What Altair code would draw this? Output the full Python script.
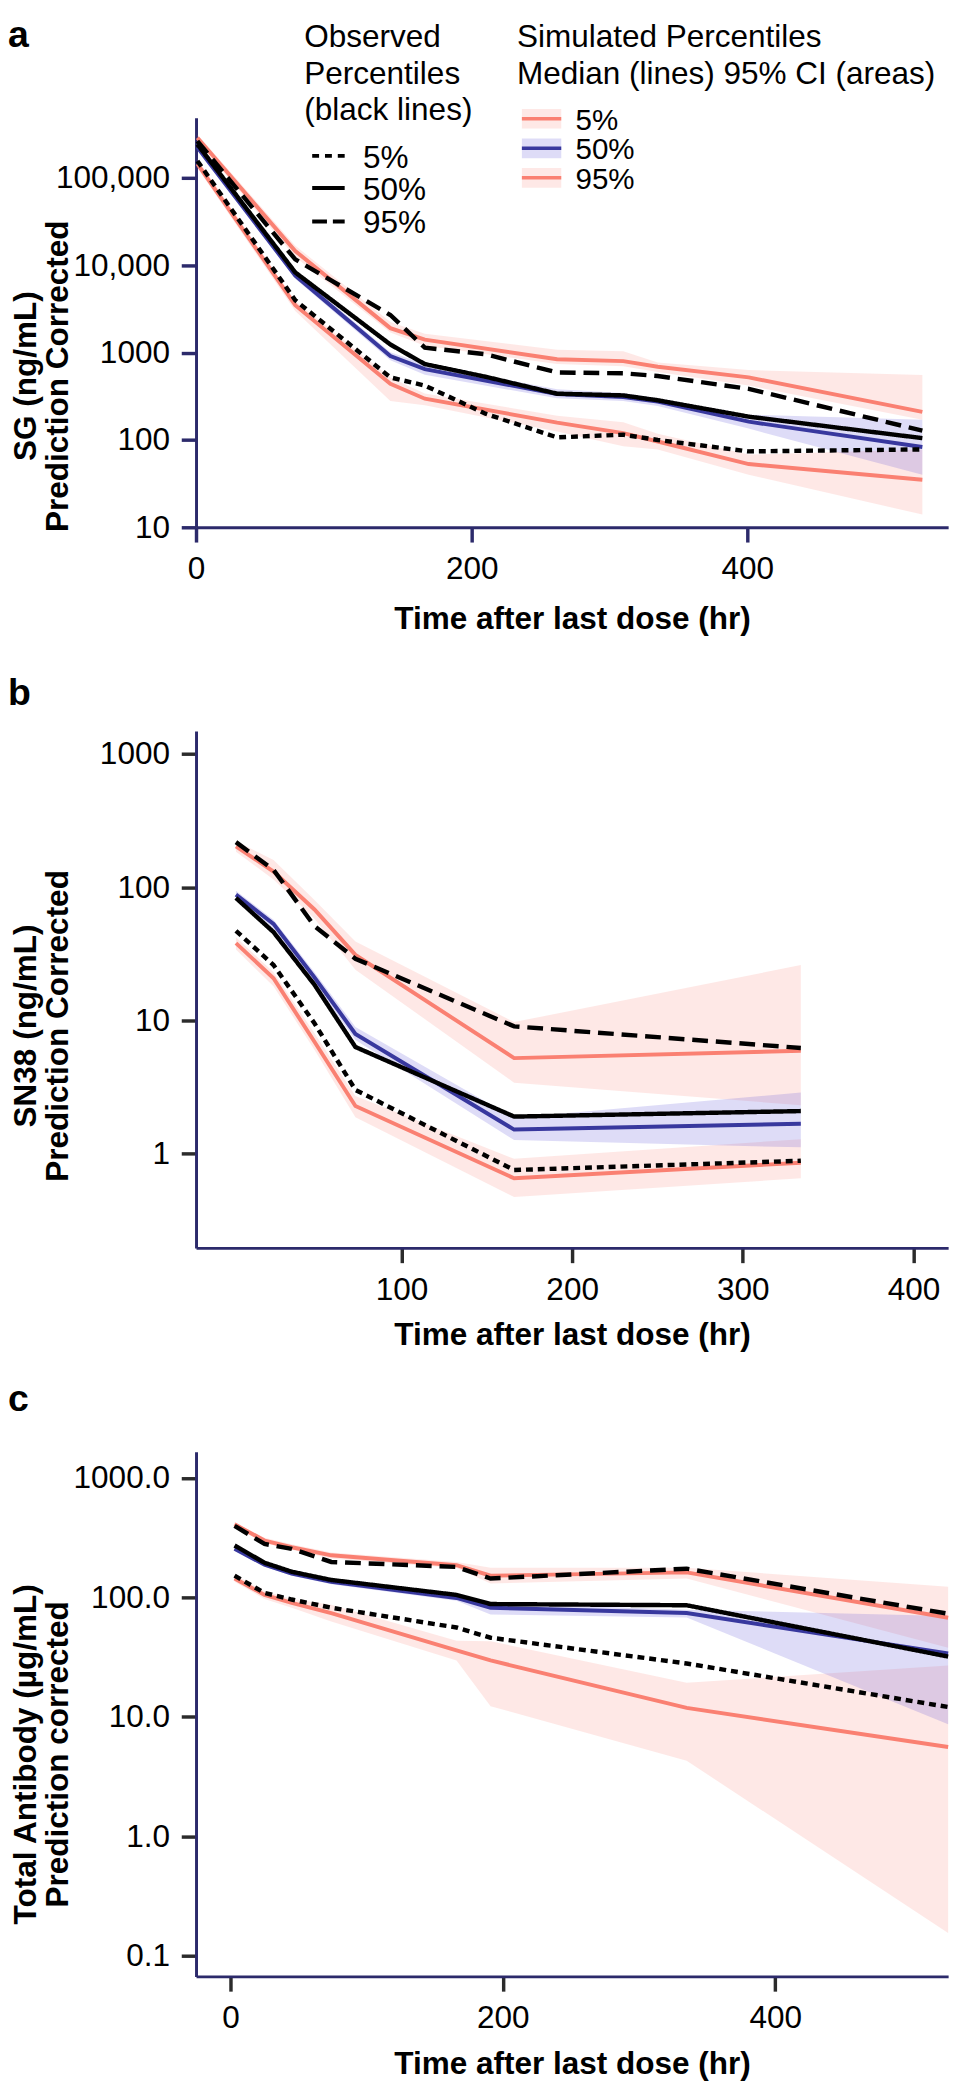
import altair as alt
import pandas as pd

FONT = "Liberation Sans"
NAVY = "#2c2a6b"
TICK_DARK = "#2b2b2b"
RED = "#fa8072"
BLUE = "#38389e"
BAND_RED = "#fa8072"
BAND_BLUE = "#5b50d6"

PCT = ["5%", "50%", "95%"]
OBS_LEGEND_TITLE = ["Observed", "Percentiles", "(black lines)"]
SIM_LEGEND_TITLE = ["Simulated Percentiles", "Median (lines) 95% CI (areas)"]
X_TITLE = "Time after last dose (hr)"

# ---------------- panel a : SG ----------------
A_SIM_TIME = [1, 72, 141, 166, 262, 310, 335, 401, 527]
A_SIM_P5 = [145000, 3500, 440, 297, 158, 120, 96, 53, 35]
A_SIM_P5_LO = [130000, 3000, 280, 250, 125, 85, 78, 40, 14]
A_SIM_P5_HI = [165000, 3900, 520, 340, 190, 160, 118, 68, 78]
A_SIM_P50 = [225000, 7640, 915, 648, 335, 310, 275, 162, 83]
A_SIM_P50_LO = [205000, 7000, 820, 560, 300, 280, 245, 135, 40]
A_SIM_P50_HI = [245000, 8300, 1010, 740, 380, 345, 300, 195, 170]
A_SIM_P95 = [289000, 14600, 1910, 1410, 840, 800, 689, 521, 210]
A_SIM_P95_LO = [265000, 12500, 1700, 1200, 740, 700, 600, 420, 170]
A_SIM_P95_HI = [315000, 16800, 2250, 1650, 1080, 1040, 770, 633, 555]
A_OBS_TIME = [1, 72, 141, 166, 210, 262, 310, 335, 401, 527]
A_OBS_P5 = [157000, 3990, 521, 420, 200, 107, 115, 100, 74, 78]
A_OBS_P50 = [243000, 8300, 1240, 740, 530, 339, 324, 285, 185, 105]
A_OBS_P95 = [265000, 11700, 2700, 1140, 960, 593, 580, 540, 385, 128]
A_Y_TICKS = [10, 100, 1000, 10000, 100000]
A_X_TICKS = [0, 200, 400]

# ---------------- panel b : SN38 ----------------
B_TIME = [3, 25, 49, 73, 166, 334]
B_OBS_P5 = [47, 26, 9.5, 3.0, 0.75, 0.88]
B_OBS_P50 = [83, 46, 18.5, 6.3, 1.89, 2.08]
B_OBS_P95 = [218, 135, 51, 29, 9.0, 6.2]
B_SIM_P5 = [38, 20.7, 6.9, 2.27, 0.65, 0.85]
B_SIM_P5_LO = [34, 18, 6.0, 1.87, 0.47, 0.65]
B_SIM_P5_HI = [42, 23, 8.0, 2.7, 0.91, 1.28]
B_SIM_P50 = [88, 53, 21, 7.9, 1.51, 1.67]
B_SIM_P50_LO = [82, 49, 19, 7.1, 1.26, 1.11]
B_SIM_P50_HI = [94, 57, 23, 8.9, 1.85, 2.87]
B_SIM_P95 = [203, 131, 68, 31, 5.2, 5.9]
B_SIM_P95_LO = [185, 114, 58, 24, 3.4, 2.3]
B_SIM_P95_HI = [222, 160, 80, 39, 9.7, 26]
B_Y_TICKS = [1, 10, 100, 1000]
B_X_TICKS = [100, 200, 300, 400]

# ---------------- panel c : total antibody ----------------
C_TIME = [3, 25, 45, 74, 166, 191, 335, 527]
C_OBS_P5 = [152, 109, 96, 82, 56, 46, 28, 12.1]
C_OBS_P50 = [272, 195, 164, 140, 105, 88, 86, 32]
C_OBS_P95 = [397, 280, 255, 198, 180, 144, 174, 73]
C_SIM_P5 = [144, 105, 90, 74, 36, 29.7, 11.9, 5.6]
C_SIM_P5_LO = [135, 97, 82, 63, 29.7, 12.3, 4.3, 0.156]
C_SIM_P5_HI = [155, 113, 97, 87, 43.5, 43, 19.3, 27]
C_SIM_P50 = [255, 188, 158, 135, 99, 82, 74, 34]
C_SIM_P50_LO = [245, 181, 152, 129, 94, 72, 68, 8.7]
C_SIM_P50_HI = [265, 195, 164, 141, 104, 90, 79, 70]
C_SIM_P95 = [409, 299, 263, 225, 186, 152, 162, 67.6]
C_SIM_P95_LO = [390, 285, 250, 212, 176, 131, 144, 38]
C_SIM_P95_HI = [425, 315, 278, 238, 198, 177, 177, 123]
C_Y_TICKS = [0.1, 1, 10, 100, 1000]
C_X_TICKS = [0, 200, 400]

W = 764
LEFT = -191


def sim_frame(time, meds, los, his):
    rows = []
    for p, m, lo, hi in zip(PCT, meds, los, his):
        for t, a, b, c in zip(time, m, lo, hi):
            rows.append({"time": t, "pct": p, "med": a, "lo": b, "hi": c})
    return pd.DataFrame(rows)


def obs_frame(time, vals):
    rows = []
    for p, v in zip(PCT, vals):
        for t, a in zip(time, v):
            rows.append({"time": t, "pct": p, "val": a})
    return pd.DataFrame(rows)


def text_layer(s, x, y, size=32, weight="normal", baseline="alphabetic"):
    return alt.Chart(pd.DataFrame({"t": [s]})).mark_text(
        font=FONT, fontSize=size, fontWeight=weight, align="left",
        baseline=baseline, color="black"
    ).encode(text="t:N", x=alt.value(x), y=alt.value(y))


def panel(letter, letter_y, sim_df, obs_df, xdom, ydom, xticks, yticks,
          ylabel_expr, ytitle, ytitle_y, height, tick_color, xtitle_y):
    xs = alt.Scale(domain=xdom, nice=False, zero=False)
    ys = alt.Scale(type="log", domain=ydom, nice=False)
    xaxis = alt.Axis(
        values=xticks, format="d", title=X_TITLE, grid=False,
        labelFont=FONT, labelFontSize=32, labelColor="black", labelPadding=12,
        labelFlush=False, labelOverlap=False,
        tickSize=15, tickWidth=3.5, tickColor=tick_color,
        domainColor=NAVY, domainWidth=3,
        titleFont=FONT, titleFontSize=32, titleFontWeight="bold", titleColor="black",
        titleX=W / 2, titleY=xtitle_y, titleAlign="center", titleBaseline="alphabetic",
    )
    yaxis = alt.Axis(
        values=yticks, labelExpr=ylabel_expr, title=ytitle, grid=False,
        labelFont=FONT, labelFontSize=32, labelColor="black", labelPadding=12,
        labelBaseline="middle", labelFlush=False, labelOverlap=False,
        tickSize=15, tickWidth=3.5, tickColor=tick_color,
        domainColor=NAVY, domainWidth=3,
        titleFont=FONT, titleFontSize=32, titleFontWeight="bold", titleColor="black",
        titleAngle=270, titleX=LEFT + 28, titleY=ytitle_y, titleAlign="center",
        titleBaseline="alphabetic", titleLineHeight=32,
    )
    X = alt.X("time:Q", scale=xs, axis=xaxis)
    red_band = alt.Chart(sim_df).transform_filter("datum.pct != '50%'").mark_area(
        color=BAND_RED, opacity=0.18
    ).encode(
        x=X,
        y=alt.Y("lo:Q", scale=ys, axis=yaxis),
        y2="hi:Q",
        detail="pct:N",
    )
    blue_band = alt.Chart(sim_df).transform_filter("datum.pct == '50%'").mark_area(
        color=BAND_BLUE, opacity=0.2
    ).encode(
        x=X,
        y=alt.Y("lo:Q", scale=ys, axis=yaxis),
        y2="hi:Q",
    )
    sim_lines = alt.Chart(sim_df).mark_line(strokeWidth=4).encode(
        x=X,
        y=alt.Y("med:Q", scale=ys, axis=yaxis),
        color=alt.Color("pct:N", scale=alt.Scale(domain=PCT, range=[RED, BLUE, RED]), legend=None),
    )
    obs_lines = alt.Chart(obs_df).mark_line(strokeWidth=4.5, color="black").encode(
        x=X,
        y=alt.Y("val:Q", scale=ys, axis=yaxis),
        strokeDash=alt.StrokeDash(
            "pct:N", scale=alt.Scale(domain=PCT, range=[[7, 5], [1, 0], [16, 8]]), legend=None
        ),
    )
    lab = text_layer(letter, LEFT, letter_y, size=38, weight="bold")
    return alt.layer(red_band, blue_band, sim_lines, obs_lines, lab).properties(
        width=W, height=height
    )


# ---------- build panels ----------
a_sim = sim_frame(A_SIM_TIME, [A_SIM_P5, A_SIM_P50, A_SIM_P95],
                  [A_SIM_P5_LO, A_SIM_P50_LO, A_SIM_P95_LO],
                  [A_SIM_P5_HI, A_SIM_P50_HI, A_SIM_P95_HI])
a_obs = obs_frame(A_OBS_TIME, [A_OBS_P5, A_OBS_P50, A_OBS_P95])
b_sim = sim_frame(B_TIME, [B_SIM_P5, B_SIM_P50, B_SIM_P95],
                  [B_SIM_P5_LO, B_SIM_P50_LO, B_SIM_P95_LO],
                  [B_SIM_P5_HI, B_SIM_P50_HI, B_SIM_P95_HI])
b_obs = obs_frame(B_TIME, [B_OBS_P5, B_OBS_P50, B_OBS_P95])
c_sim = sim_frame(C_TIME, [C_SIM_P5, C_SIM_P50, C_SIM_P95],
                  [C_SIM_P5_LO, C_SIM_P50_LO, C_SIM_P95_LO],
                  [C_SIM_P5_HI, C_SIM_P50_HI, C_SIM_P95_HI])
c_obs = obs_frame(C_TIME, [C_OBS_P5, C_OBS_P50, C_OBS_P95])

pa = panel("a", -71.6, a_sim, a_obs, [0, W / 1.4], [10, 490000], A_X_TICKS, A_Y_TICKS,
           "datum.value >= 10000 ? format(datum.value, ',') : format(datum.value, 'd')",
           ["SG (ng/mL)", "Prediction Corrected"], 262, 416, NAVY, 103)

# legend for panel a (drawn in pixel space above / inside the plot)
legend_layers = []
for i, s in enumerate(OBS_LEGEND_TITLE):
    legend_layers.append(text_layer(s, 110, -71.6 + 37 * i))
for i, s in enumerate(SIM_LEGEND_TITLE):
    legend_layers.append(text_layer(s, 326, -71.6 + 37 * i))
OBS_DASH = [[7, 6], [1, 0], [15, 6]]
OBS_Y = [38.7, 71.3, 105.3]
for lbl, dash, yy in zip(PCT, OBS_DASH, OBS_Y):
    legend_layers.append(
        alt.Chart(pd.DataFrame({"k": [lbl]})).mark_rule(
            color="black", strokeWidth=4, strokeDash=dash
        ).encode(x=alt.value(118), x2=alt.value(151), y=alt.value(yy))
    )
    legend_layers.append(text_layer(lbl, 169.5, yy + 2, baseline="middle"))
SIM_Y = [1, 31, 61]
for lbl, col, band, op, yy in zip(PCT, [RED, BLUE, RED], [BAND_RED, BAND_BLUE, BAND_RED],
                                  [0.18, 0.2, 0.18], SIM_Y):
    legend_layers.append(
        alt.Chart(pd.DataFrame({"k": [lbl]})).mark_rect(color=band, opacity=op).encode(
            x=alt.value(331), x2=alt.value(371), y=alt.value(yy - 10), y2=alt.value(yy + 10)
        )
    )
    legend_layers.append(
        alt.Chart(pd.DataFrame({"k": [lbl]})).mark_rule(color=col, strokeWidth=3.5).encode(
            x=alt.value(331), x2=alt.value(371), y=alt.value(yy)
        )
    )
    legend_layers.append(text_layer(lbl, 385.5, yy + 2, size=30, baseline="middle"))

pa = alt.layer(pa, *legend_layers)

pb = panel("b", -26, b_sim, b_obs, [-20.4, -20.4 + W / 1.7335], [0.195, 1489], B_X_TICKS, B_Y_TICKS,
           "format(datum.value, 'd')",
           ["SN38 (ng/mL)", "Prediction Corrected"], 299, 525, TICK_DARK, 98)

pc = panel("c", -41, c_sim, c_obs, [-25.3, -25.3 + W / 1.3833], [0.0675, 1657], C_X_TICKS, C_Y_TICKS,
           "format(datum.value, '.1f')",
           ["Total Antibody (\u00b5g/mL)", "Prediction corrected"], 307, 533, TICK_DARK, 99)

chart = alt.vconcat(pa, pb, pc, spacing=207, bounds="flush").properties(
    padding={"top": -7, "left": 0, "right": 0, "bottom": 0}
).configure_view(stroke=None)

chart.save("out.html", embed_options={"renderer": "svg", "actions": False})
